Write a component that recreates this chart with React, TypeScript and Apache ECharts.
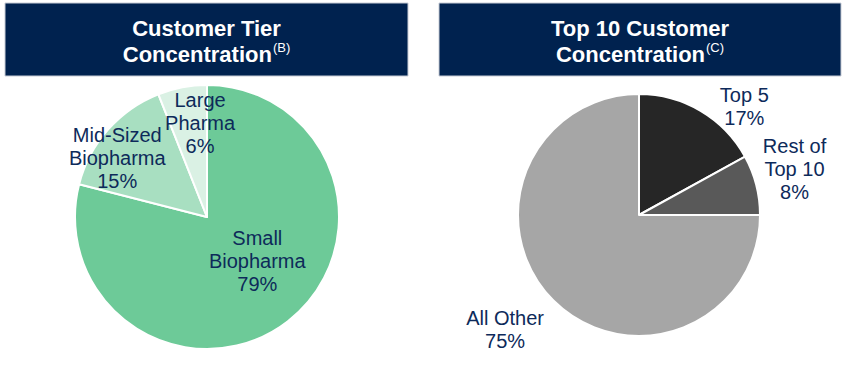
import React, { useEffect, useRef } from "react";
import * as echarts from "echarts";

const tierNames = ["Small\nBiopharma", "Mid-Sized\nBiopharma", "Large\nPharma"];
const tierValues = [79, 15, 6];
const tierColors = ["#6DCA98", "#A8DFC1", "#DAF1E4"];
const tierLabelShift = [
  [8, -11],
  [-38, -13],
  [6, -26],
];

const topNames = ["Top 5", "Rest of\nTop 10", "All Other"];
const topValues = [17, 8, 75];
const topColors = ["#262626", "#595959", "#A6A6A6"];
const topLabelShift = [
  [73, -54],
  [94, -30],
  [-89, 70],
];

const titles = ["Customer Tier", "Top 10 Customer"];
const supers = ["(B)", "(C)"];

const FONT = "'Liberation Sans', Arial, sans-serif";
const NAVY = "#00224F";
const LABEL = "#0D2A5A";

function pieSeries(names: string[], values: number[], colors: string[], shifts: number[][], center: number[], radius: number) {
  return {
    type: "pie",
    center,
    radius,
    startAngle: 90,
    clockwise: true,
    avoidLabelOverlap: false,
    silent: true,
    itemStyle: { borderColor: "#ffffff", borderWidth: 2 },
    label: {
      show: true,
      position: "inside",
      formatter: (p: any) => `${p.name}\n${p.value}%`,
      color: LABEL,
      fontFamily: FONT,
      fontSize: 20,
      lineHeight: 23,
      align: "center",
    },
    labelLine: { show: false },
    labelLayout: (p: any) => ({ dx: shifts[p.dataIndex][0], dy: shifts[p.dataIndex][1] }),
    data: names.map((n, i) => ({ name: n, value: values[i], itemStyle: { color: colors[i] } })),
  };
}

function titleBox(x: number, w: number, i: number) {
  return {
    type: "group",
    x,
    y: 3,
    children: [
      {
        type: "rect",
        shape: { x: 0, y: 0, width: w, height: 73 },
        style: { fill: NAVY, stroke: "#C7CCD6", lineWidth: 1 },
      },
      {
        type: "text",
        x: w / 2,
        y: 38,
        style: {
          text: `{t|${titles[i]}}\n{t|Concentration}{s|${supers[i]}}`,
          align: "center",
          verticalAlign: "middle",
          rich: {
            t: { fontFamily: FONT, fontSize: 22, fontWeight: "bold", fill: "#ffffff", lineHeight: 26 },
            s: { fontFamily: FONT, fontSize: 13, fill: "#ffffff", lineHeight: 26, verticalAlign: "top", padding: [0, 0, 8, 1] },
          },
        },
      },
    ],
  };
}

export default function App() {
  const ref = useRef<HTMLDivElement>(null);
  useEffect(() => {
    if (!ref.current) return;
    const chart = echarts.init(ref.current, undefined, { renderer: "svg" });
    chart.setOption({
      animation: false,
      backgroundColor: "#ffffff",
      graphic: [titleBox(5, 403, 0), titleBox(439, 402, 1)],
      series: [
        pieSeries(tierNames, tierValues, tierColors, tierLabelShift, [207, 217], 132),
        pieSeries(topNames, topValues, topColors, topLabelShift, [639, 215], 121),
      ],
    });
    return () => chart.dispose();
  }, []);
  return (
    <div
      ref={ref}
      style={{ position: "fixed", left: 0, top: 0, width: 845, height: 372, background: "#fff" }}
    />
  );
}
